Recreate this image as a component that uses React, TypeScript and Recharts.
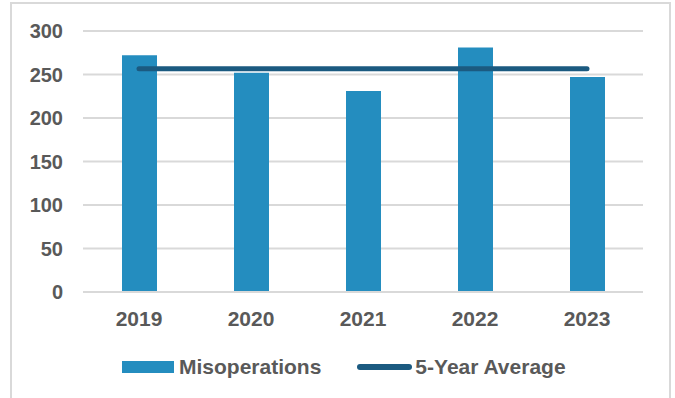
import { ComposedChart, Bar, Line, XAxis, YAxis, CartesianGrid, Legend } from 'recharts';

const years = ['2019', '2020', '2021', '2022', '2023'];
const misoperations = [272, 252, 231, 281, 247];
const fiveYearAverage = [256.6, 256.6, 256.6, 256.6, 256.6];
const yTicks = [0, 50, 100, 150, 200, 250, 300];

const data = years.map((year, i) => ({
  year,
  misoperations: misoperations[i],
  avg: fiveYearAverage[i],
}));

const FONT = '"Liberation Sans", Arial, sans-serif';
const TEXT = '#595959';
const BAR = '#248dbf';
const LINE = '#1b5a80';

const LegendContent = () => (
  <div style={{ display: 'flex', alignItems: 'center', height: 36, fontFamily: FONT, fontWeight: 700, fontSize: 21, color: TEXT }}>
    <span style={{ display: 'inline-block', width: 52, height: 12, background: BAR, marginRight: 5 }} />
    <span>Misoperations</span>
    <span style={{ display: 'inline-block', width: 55, height: 6, borderRadius: 3, background: LINE, marginLeft: 36, marginRight: 3 }} />
    <span>5-Year Average</span>
  </div>
);

export default function App() {
  return (
    <div style={{ position: 'absolute', left: 0, top: 0, width: 675, height: 398, overflow: 'hidden', background: '#fff' }}>
      <div style={{ position: 'absolute', left: 10, top: 2, width: 661, height: 420, border: '2px solid #d9d9d9', boxSizing: 'border-box' }} />
      <div style={{ position: 'absolute', left: 0, top: 0 }}>
        <ComposedChart width={675} height={398} data={data} margin={{ top: 31, right: 32, left: 0, bottom: 13 }}>
          <CartesianGrid vertical={false} stroke="#d9d9d9" strokeWidth={2} />
          <XAxis
            dataKey="year"
            height={57}
            tickLine={false}
            tickSize={0}
            tickMargin={19}
            axisLine={{ stroke: '#d9d9d9', strokeWidth: 2 }}
            tick={{ fill: TEXT, fontSize: 21, fontWeight: 700, fontFamily: FONT }}
          />
          <YAxis
            width={83}
            domain={[0, 300]}
            ticks={yTicks}
            axisLine={false}
            tickLine={false}
            tickSize={0}
            tickMargin={20}
            tick={{ fill: TEXT, fontSize: 20, fontWeight: 700, fontFamily: FONT }}
          />
          <Legend
            verticalAlign="bottom"
            height={36}
            content={<LegendContent />}
            wrapperStyle={{ left: 122, width: 500 }}
          />
          <Bar dataKey="misoperations" name="Misoperations" fill={BAR} barSize={35} isAnimationActive={false} />
          <Line
            dataKey="avg"
            name="5-Year Average"
            type="linear"
            stroke={LINE}
            strokeWidth={5}
            strokeLinecap="round"
            dot={false}
            activeDot={false}
            isAnimationActive={false}
          />
        </ComposedChart>
      </div>
    </div>
  );
}
